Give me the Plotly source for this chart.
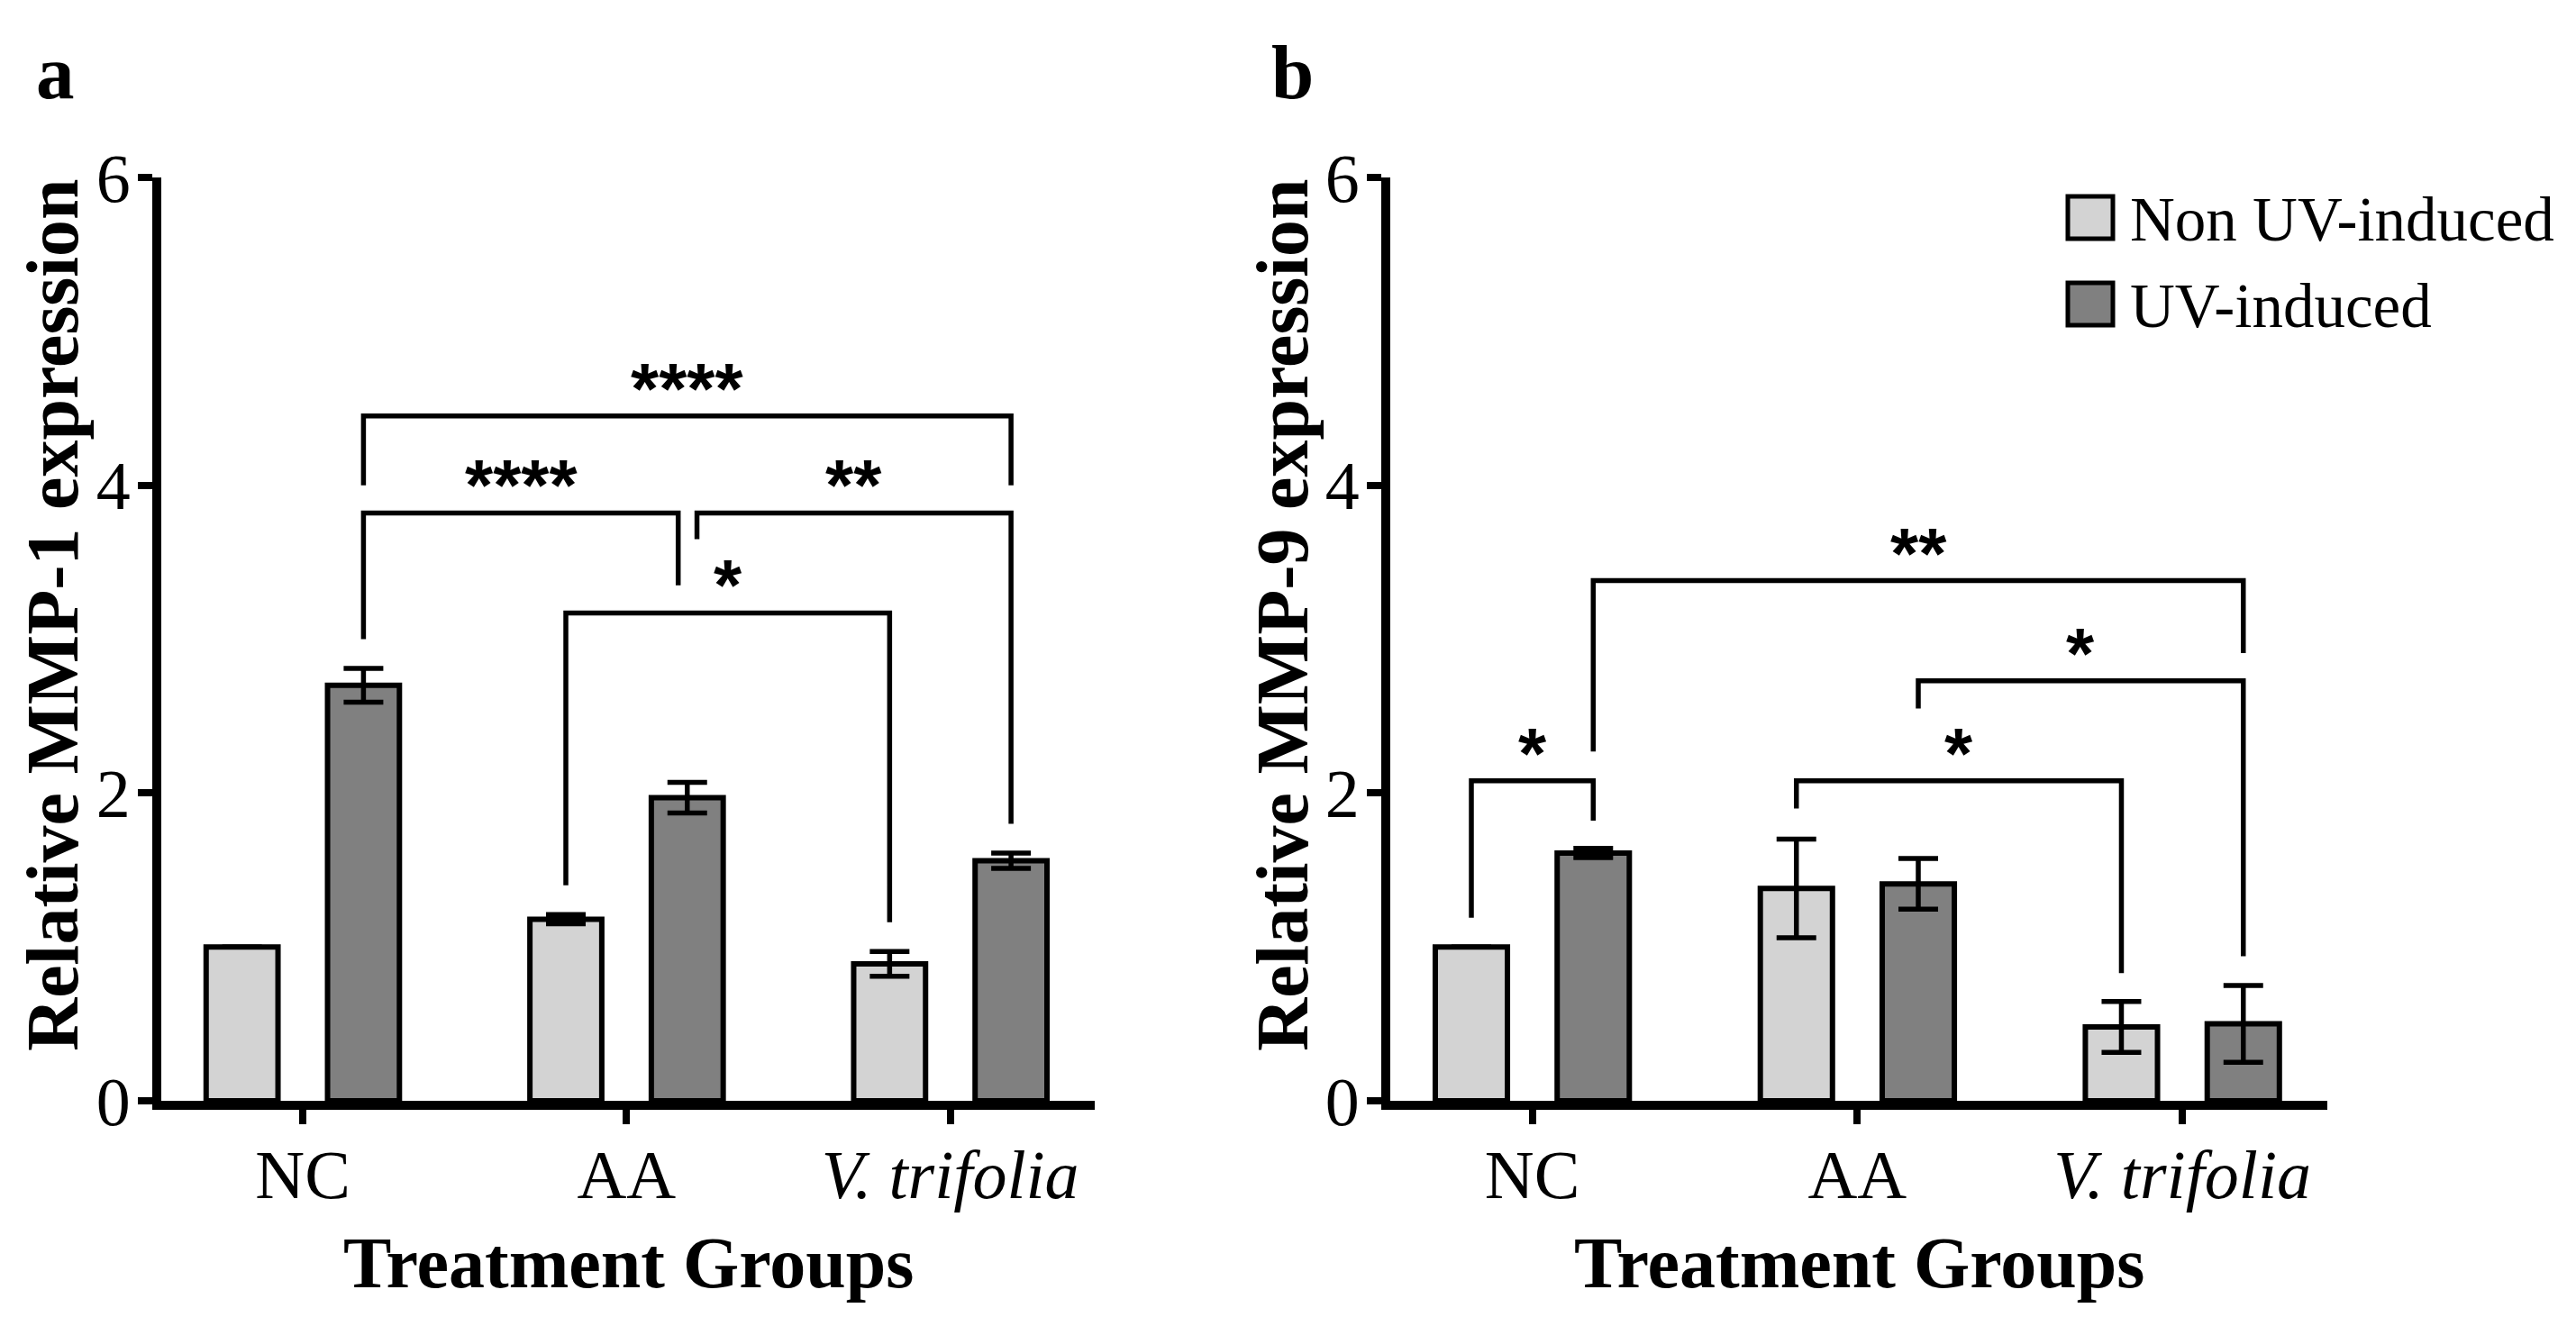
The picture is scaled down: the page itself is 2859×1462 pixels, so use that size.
import plotly.graph_objects as go

# ---- data ----
groups = ["NC", "AA", "<i>V. trifolia</i>"]
series_names = ["Non UV-induced", "UV-induced"]
series_colors = ["#d3d3d3", "#808080"]

mmp1_non = [1.00, 1.18, 0.89]
mmp1_non_err = [None, 0.03, 0.08]
mmp1_uv = [2.70, 1.97, 1.56]
mmp1_uv_err = [0.11, 0.10, 0.05]

mmp9_non = [1.00, 1.38, 0.48]
mmp9_non_err = [None, 0.32, 0.165]
mmp9_uv = [1.61, 1.41, 0.50]
mmp9_uv_err = [0.03, 0.165, 0.25]

# significance brackets:
# (left group, left series, right group, right series, bar y, left end y, right end y, label)
mmp1_brackets = [
    (0, 1, 2, 1, 4.45, 4.00, 4.00, "****"),
    (0, 1, 1, 1, 3.82, 3.00, 3.35, "****"),
    (1, 1, 2, 1, 3.82, 3.65, 1.80, "**"),
    (1, 0, 2, 0, 3.17, 1.40, 1.16, "*"),
]
mmp9_brackets = [
    (0, 0, 0, 1, 2.08, 1.19, 1.82, "*"),
    (0, 1, 2, 1, 3.38, 2.27, 2.91, "**"),
    (1, 1, 2, 1, 2.73, 2.55, 0.94, "*"),
    (1, 0, 2, 0, 2.08, 1.90, 0.83, "*"),
]
# small sideways nudge where two brackets meet on the same bar (panel a, AA UV)
mmp1_nudges = [(0, 0), (0, -0.028), (0.03, 0), (0, 0)]
mmp9_nudges = [(0, 0), (0, 0), (0, 0), (0, 0)]

W, H = 2859, 1462
SERIF = "Liberation Serif"
BAR_OFFSET = 0.1875


def px_x(p):
    return p / W


def px_y(p):
    return 1 - p / H


fig = go.Figure()


def add_panel(fig, xa, ya, non, non_err, uv, uv_err, brackets, nudges):
    xs = list(range(len(groups)))
    for vals, errs, name, color in [(non, non_err, series_names[0], series_colors[0]),
                                    (uv, uv_err, series_names[1], series_colors[1])]:
        fig.add_trace(go.Bar(
            x=xs, y=vals, name=name, xaxis=xa, yaxis=ya, showlegend=False,
            marker=dict(color=color, line=dict(color="black", width=6)),
            error_y=dict(type="data", array=errs, visible=True,
                         color="black", thickness=5.5, width=22),
        ))
    for (g1, s1, g2, s2, yb, y1, y2, label), (n1, n2) in zip(brackets, nudges):
        x1 = g1 + (BAR_OFFSET if s1 else -BAR_OFFSET) + n1
        x2 = g2 + (BAR_OFFSET if s2 else -BAR_OFFSET) + n2
        fig.add_trace(go.Scatter(
            x=[x1, x1, x2, x2], y=[y1, yb, yb, y2], mode="lines",
            xaxis=xa, yaxis=ya, showlegend=False, hoverinfo="skip",
            line=dict(color="black", width=5.5),
        ))
        fig.add_annotation(
            x=(x1 + x2) / 2, y=yb, xref=xa, yref=ya, text="<b>" + label + "</b>",
            showarrow=False, xanchor="center", yanchor="bottom", yshift=-16,
            font=dict(family="Liberation Sans", size=80, color="black"),
        )


add_panel(fig, "x", "y", mmp1_non, mmp1_non_err, mmp1_uv, mmp1_uv_err,
          mmp1_brackets, mmp1_nudges)
add_panel(fig, "x2", "y2", mmp9_non, mmp9_non_err, mmp9_uv, mmp9_uv_err,
          mmp9_brackets, mmp9_nudges)

x_axis = dict(
    range=[-0.437, 2.446], showline=True, linewidth=10, linecolor="black",
    ticks="outside", ticklen=16, tickwidth=8, tickcolor="black",
    tickvals=list(range(len(groups))), ticktext=groups, ticklabelstandoff=-9,
    tickfont=dict(family=SERIF, size=76, color="black"),
    showgrid=False, zeroline=False, automargin=False,
)
y_axis = dict(
    range=[0, 6], tick0=0, dtick=2, showline=True, linewidth=10, linecolor="black",
    ticks="outside", ticklen=16, tickwidth=8, tickcolor="black", ticklabelstandoff=-7,
    tickfont=dict(family=SERIF, size=76, color="black"),
    showgrid=False, zeroline=False, automargin=False,
)
y_dom = [px_y(1222), px_y(197)]

fig.update_layout(
    width=W, height=H, autosize=False,
    margin=dict(l=0, r=0, t=0, b=0),
    paper_bgcolor="white", plot_bgcolor="white",
    barmode="group", bargap=0.25, bargroupgap=0.408,
    xaxis=dict(x_axis, domain=[px_x(179), px_x(1215)], anchor="y"),
    yaxis=dict(y_axis, domain=y_dom, anchor="x"),
    xaxis2=dict(x_axis, domain=[px_x(1543), px_x(2583)], anchor="y2"),
    yaxis2=dict(y_axis, domain=y_dom, anchor="x2"),
    font=dict(family=SERIF, color="black"),
)

# axis titles and panel letters
titles = [
    (58, 683, "Relative MMP-1 expression", -90),
    (1423, 683, "Relative MMP-9 expression", -90),
    (697, 1402, "Treatment Groups", 0),
    (2063, 1402, "Treatment Groups", 0),
]
for px, py, text, ang in titles:
    fig.add_annotation(
        x=px_x(px), y=px_y(py), xref="paper", yref="paper", text="<b>" + text + "</b>",
        showarrow=False, xanchor="center", yanchor="middle", textangle=ang,
        font=dict(family=SERIF, size=82 if ang else 80, color="black"),
    )
for px, text in [(38, "a"), (1409, "b")]:
    fig.add_annotation(
        x=px_x(px), y=px_y(80), xref="paper", yref="paper", text="<b>" + text + "</b>",
        showarrow=False, xanchor="left", yanchor="middle",
        font=dict(family=SERIF, size=85, color="black"),
    )

# legend drawn by hand so the swatches can be as large as in the original
for i, (name, color) in enumerate(zip(series_names, series_colors)):
    top = 218 + i * 96
    fig.add_shape(
        type="rect", xref="paper", yref="paper",
        x0=px_x(2295), x1=px_x(2345), y0=px_y(top + 47), y1=px_y(top),
        fillcolor=color, line=dict(color="black", width=5),
    )
    fig.add_annotation(
        x=px_x(2362), y=px_y(top + 26), xref="paper", yref="paper", text=name,
        showarrow=False, xanchor="left", yanchor="middle",
        font=dict(family=SERIF, size=69, color="black"),
    )

fig.write_html("out.html", config={"displayModeBar": False},
               post_script="document.body.style.margin = '0';")
